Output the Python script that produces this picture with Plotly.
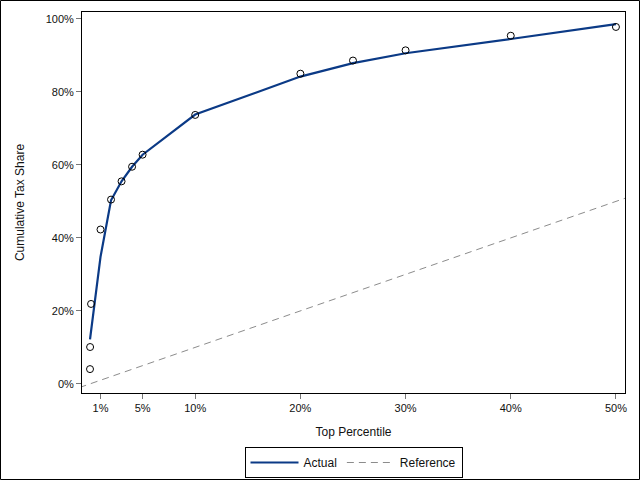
import plotly.graph_objects as go

# Observed cumulative tax share by top percentile
pct = [0.001, 0.01, 0.1, 1, 2, 3, 4, 5, 10, 20, 25, 30, 40, 50]
share = [4.05, 10.1, 21.9, 42.3, 50.5, 55.5, 59.5, 62.8, 73.7, 85.0, 88.6, 91.4, 95.4, 97.8]

# Fitted ("Actual") curve
fit_x = [0.001, 1, 2, 3, 4, 5, 10, 20, 25, 30, 40, 50]
fit_y = [12.2, 34.8, 50.3, 55.5, 59.5, 62.8, 73.8, 84.2, 87.9, 90.6, 94.5, 98.6]

# Reference line y = x
ref_x = [-1, 51]
ref_y = [-1, 51]

x_ticks = [1, 5, 10, 20, 30, 40, 50]
x_labels = ["1%", "5%", "10%", "20%", "30%", "40%", "50%"]
y_ticks = [0, 20, 40, 60, 80, 100]
y_labels = ["0%", "20%", "40%", "60%", "80%", "100%"]

FONT = "Liberation Sans, Arial, sans-serif"
ML, MR, MT, MB = 82, 15, 12, 87
W, H = 640, 480
PW, PH = W - ML - MR, H - MT - MB

fig = go.Figure()
fig.add_trace(go.Scatter(x=fit_x, y=fit_y, mode="lines", name="Actual",
                         line=dict(color="#0b3a86", width=2.2)))
fig.add_trace(go.Scatter(x=ref_x, y=ref_y, mode="lines", name="Reference",
                         line=dict(color="#8c8c8c", width=1, dash="7px,5px")))
fig.add_trace(go.Scatter(x=pct, y=share, mode="markers", showlegend=False,
                         marker=dict(symbol="circle-open", size=7,
                                     color="black", line=dict(width=1, color="black")),
                         cliponaxis=False))

axis_common = dict(showgrid=False, zeroline=False, showline=True, linecolor="black",
                   linewidth=1, mirror=True, ticks="outside", ticklen=5,
                   tickcolor="#777777", tickwidth=1, automargin=False,
                   tickfont=dict(family=FONT, size=11, color="#111"))

fig.update_xaxes(range=[-0.76, 50.86], tickvals=x_ticks, ticktext=x_labels,
                 title=dict(text="Top Percentile", font=dict(family=FONT, size=12, color="#111"),
                            standoff=14),
                 **axis_common)
fig.update_yaxes(range=[-2.5, 101.9], tickvals=y_ticks, ticktext=y_labels,
                 title=dict(text="Cumulative Tax Share", font=dict(family=FONT, size=12, color="#111"),
                            standoff=18),
                 **axis_common)

fig.update_layout(
    width=W, height=H,
    margin=dict(l=ML, r=MR, t=MT, b=MB, autoexpand=False),
    plot_bgcolor="white", paper_bgcolor="white",
    font=dict(family=FONT, size=12, color="#111"),
    legend=dict(orientation="h", x=0.5, xanchor="center",
                y=(PH - (447 - MT)) / PH, yanchor="top",
                bordercolor="black", borderwidth=1,
                font=dict(family=FONT, size=12, color="#111"),
                itemwidth=48, tracegroupgap=0),
    shapes=[dict(type="rect", xref="paper", yref="paper",
                 x0=-(ML - 0.5) / PW, x1=1 + (MR - 0.5) / PW,
                 y0=-(MB - 0.5) / PH, y1=1 + (MT - 0.5) / PH,
                 line=dict(color="black", width=1), layer="below")],
)

fig.write_html("out.html")
